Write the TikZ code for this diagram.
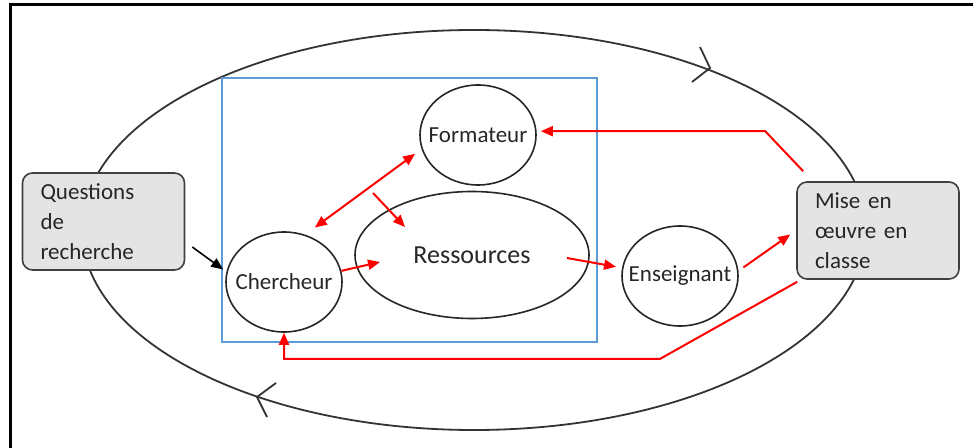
\documentclass[tikz,border=0pt]{standalone}
\usepackage{fontspec}
\setmainfont{Carlito}
\usepackage{xcolor}
\usetikzlibrary{positioning, arrows.meta, shapes.geometric, calc}
\definecolor{bleucadre}{RGB}{91,155,213}
\definecolor{grisboite}{RGB}{228,228,228}
\newcommand{\etiq}[1]{\makebox[0pt]{#1}}

\begin{document}
\begin{tikzpicture}[x=0.5pt, y=-0.5pt, >={Triangle[length=6pt,width=5pt]},
    cercle/.style={draw=black!85, line width=0.8pt, ellipse, inner sep=0pt,
      minimum width=58pt, minimum height=50pt,
      font=\fontsize{11.5}{14}\selectfont, text=black!85},
    boite/.style={draw=black!75, line width=0.8pt, fill=grisboite, rounded corners=5pt,
      text width=63pt, inner xsep=9pt, minimum height=48.5pt, align=left,
      font=\fontsize{11.5}{15}\selectfont, text=black!85},
    grand/.style={draw=black!80, line width=0.9pt},
    fleche/.style={red, line width=1pt},
    noire/.style={black, line width=0.8pt}]
  \useasboundingbox (0,0) rectangle (973,448);
  % bord de la capture
  \draw[line width=1.5pt] (10,448) -- (10,5) -- (973,5);
  % le cycle
  \node[grand, ellipse, inner sep=0pt, minimum width=392pt, minimum height=200pt] (cycle) at (474,230) {};
  \draw[grand] (700,47) -- (710,68) -- (692,82);
  \draw[grand] (276,383) -- (257,397) -- (267,417);
  % cadre bleu
  \draw[bleucadre, line width=0.6pt] (222,78) rectangle (597,342);

  \node[cercle] (form) at (478,135) {\etiq{Formateur}};
  \node[cercle, minimum width=117pt, minimum height=63.5pt, font=\fontsize{13}{15}\selectfont] (res) at (472,255) {\etiq{Ressources}};
  \node[cercle] (cher) at (284,282) {\etiq{Chercheur}};
  \node[cercle] (ens) at (680,276) {\etiq{Enseignant}};
  \node[boite] (quest) at (103.5,221.5) {Questions\\de\\recherche};
  \node[boite] (mise) at (878,230.5) {Mise en\\œuvre en\\classe};

  \coordinate (depart) at (373,193);
  \draw[fleche, <->, shorten <=6pt, shorten >=4pt] (cher.66) -- (form.194);
  \draw[fleche, ->] (depart) -- ($(res)+(-67,-28)$);
  \draw[fleche, ->] (cher.11) -- ($(res)+(-92,7)$);
  \draw[fleche, ->, shorten >=3pt] ($(res)+(95,3)$) -- (ens.172);
  \draw[fleche, ->, shorten <=3pt] (ens.5) -- ($(mise.west)+(-6,4)$);
  \draw[fleche, ->, shorten >=2pt] ($(mise.north west)+(7,-10)$) -- ++(-38,-40) coordinate (coude1) -- (coude1 -| form.east);
  \draw[fleche, ->] ($(mise.south west)+(1,2)$) -- ++(-137,77) coordinate (coude2) -- (coude2 -| cher.south) -- (cher.south);
  \draw[noire, ->, shorten >=2pt] ($(quest.east)+(7,25.5)$) -- (cher.170);
\end{tikzpicture}
\end{document}
